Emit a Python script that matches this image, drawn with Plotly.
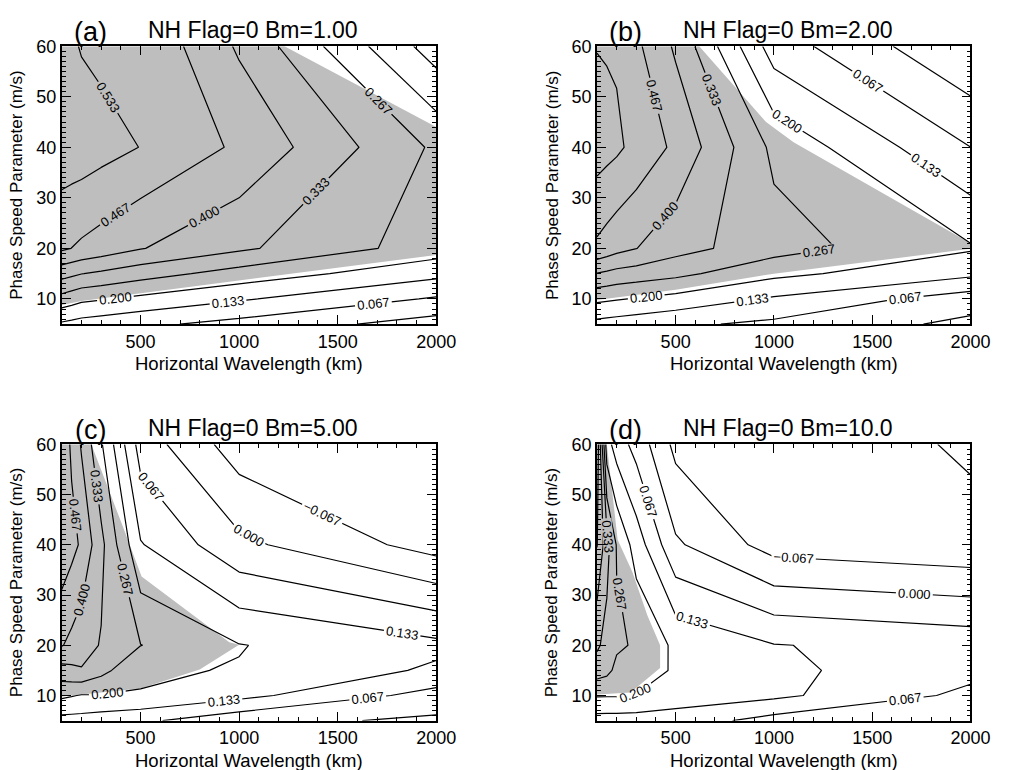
import plotly.graph_objects as go

# ---------------- data ----------------
wavelength_km = [100, 150, 200, 300, 500, 1000, 2000]
phase_speed = [5, 10, 15, 20, 40, 60]

# rows follow phase_speed, columns follow wavelength_km
z_a = [
    [0.123, 0.115, 0.107, 0.098, 0.081, 0.045, -0.030],
    [0.243, 0.229, 0.215, 0.205, 0.185, 0.141, 0.0595],
    [0.359, 0.347, 0.335, 0.322, 0.295, 0.240, 0.153],
    [0.477, 0.466, 0.455, 0.438, 0.403, 0.345, 0.234],
    [0.574, 0.572, 0.570, 0.557, 0.532, 0.455, 0.255],
    [0.557, 0.543, 0.529, 0.518, 0.525, 0.391, 0.100],
]
z_b = [
    [0.1125, 0.108, 0.1035, 0.095, 0.0787, 0.0525, -0.0165],
    [0.215, 0.210, 0.205, 0.196, 0.178, 0.125, 0.032],
    [0.331, 0.3215, 0.312, 0.303, 0.284, 0.217, 0.149],
    [0.454, 0.438, 0.422, 0.401, 0.358, 0.294, 0.207],
    [0.565, 0.555, 0.545, 0.514, 0.453, 0.251, 0.067],
    [0.531, 0.528, 0.525, 0.480, 0.390, 0.100, -0.065],
]
z_c = [
    [0.110, 0.109, 0.1085, 0.099, 0.080, 0.020, -0.012],
    [0.213, 0.2045, 0.196, 0.1965, 0.1975, 0.153, 0.0408],
    [0.309, 0.319, 0.329, 0.288, 0.207, 0.197, 0.1226],
    [0.404, 0.382, 0.360, 0.329, 0.268, 0.2025, 0.150],
    [0.517, 0.487, 0.457, 0.351, 0.138, 0.016, -0.094],
    [0.517, 0.455, 0.393, 0.274, 0.037, -0.102, -0.120],
]
z_d = [
    [0.105, 0.104, 0.104, 0.103, 0.102, 0.041, 0.015],
    [0.205, 0.205, 0.205, 0.197, 0.167, 0.148, 0.0497],
    [0.299, 0.285, 0.250, 0.250, 0.188, 0.148, 0.0874],
    [0.345, 0.310, 0.277, 0.259, 0.186, 0.136, 0.109],
    [0.470, 0.360, 0.262, 0.170, 0.010, -0.094, -0.118],
    [0.520, 0.160, 0.103, 0.042, -0.085, -0.100, -0.140],
]

# boundaries of the grey shaded regions (wavelength km, phase speed m/s)
shade_a_x = [100, 200, 2000, 2000, 1230, 100]
shade_a_y = [8.8, 9.6, 18.7, 44.0, 60.0, 60.0]
shade_b_x = [100, 500, 1000, 2000, 2000, 1100, 960, 620, 100]
shade_b_y = [9.8, 11.8, 15.0, 19.9, 21.0, 41.0, 45.0, 60.0, 60.0]
shade_c_x = [100, 500, 800, 1000, 950, 505, 423, 250, 100]
shade_c_y = [9.8, 11.4, 15.2, 20.1, 20.6, 33.7, 42.3, 60.0, 60.0]
shade_d_x = [100, 271, 421, 421, 356, 280, 205, 150, 100]
shade_d_y = [10.2, 10.6, 15.5, 20.0, 26.0, 34.6, 41.0, 60.0, 60.0]

panel_letters = ["(a)", "(b)", "(c)", "(d)"]
panel_titles = ["NH Flag=0 Bm=1.00", "NH Flag=0 Bm=2.00",
                "NH Flag=0 Bm=5.00", "NH Flag=0 Bm=10.0"]
x_tick_vals = [500, 1000, 1500, 2000]
y_tick_vals = [10, 20, 30, 40, 50, 60]
x_title = "Horizontal Wavelength (km)"
y_title = "Phase Speed Parameter (m/s)"

# ---------------- figure ----------------
W, H = 1015, 770
FONT = "Liberation Sans"

fig = go.Figure()

# plot-area pixel boxes (left, right, top, bottom)
boxes = [(63, 445, 36.7, 318.3), (609, 990, 36.7, 318.3),
         (63, 445, 440, 720), (609, 990, 440, 720)]

zs = [z_a, z_b, z_c, z_d]
shades = [(shade_a_x, shade_a_y), (shade_b_x, shade_b_y),
          (shade_c_x, shade_c_y), (shade_d_x, shade_d_y)]

annotations = []
shapes = []
for i in range(4):
    sfx = "" if i == 0 else str(i + 1)
    xa, ya = "x" + sfx, "y" + sfx
    sx, sy = shades[i]
    path = "M " + " L ".join(f"{a},{b}" for a, b in zip(sx, sy)) + " Z"
    shapes.append(dict(type="path", path=path, xref=xa, yref=ya,
                       fillcolor="#bebebe", line=dict(width=0),
                       layer="below"))
    fig.add_trace(go.Contour(
        x=wavelength_km, y=phase_speed, z=zs[i],
        contours=dict(coloring="none", start=-0.2, end=0.6, size=1 / 15,
                      showlabels=True, labelformat=".3f",
                      labelfont=dict(family=FONT, size=13, color="black")),
        line=dict(color="black", width=1.2, smoothing=0),
        showscale=False, hoverinfo="skip", xaxis=xa, yaxis=ya))

    l, r, t, b = boxes[i]
    xdom = [l / W, r / W]
    ydom = [1 - b / H, 1 - t / H]
    common = dict(showline=True, linecolor="black", linewidth=1.8,
                  mirror="allticks", ticks="inside", showgrid=False,
                  zeroline=False, tickcolor="black", tickwidth=1.3,
                  tickfont=dict(family=FONT, size=18, color="black"))
    fig.layout["xaxis" + sfx] = dict(
        domain=xdom, anchor=ya, range=[100, 2000], tickvals=x_tick_vals,
        ticklen=9, minor=dict(tickvals=list(range(100, 2001, 100)),
                              ticks="inside", ticklen=4, tickwidth=1,
                              tickcolor="black"),
        **common)
    fig.layout["yaxis" + sfx] = dict(
        domain=ydom, anchor=xa, range=[5, 60], tickvals=y_tick_vals,
        ticklen=9, minor=dict(tickvals=list(range(5, 61)), ticks="inside",
                              ticklen=4, tickwidth=1, tickcolor="black"),
        **common)

    cx = (l + r) / 2
    annotations.append(dict(text=panel_titles[i], x=(cx + 4) / W,
                            y=1 - (t - 16) / H, xref="paper", yref="paper",
                            showarrow=False, xanchor="center", yanchor="middle",
                            font=dict(family=FONT, size=23, color="black")))
    annotations.append(dict(text=panel_letters[i], x=(l + 29) / W,
                            y=1 - (t - 14) / H, xref="paper", yref="paper",
                            showarrow=False, xanchor="center", yanchor="middle",
                            font=dict(family=FONT, size=27, color="black")))
    annotations.append(dict(text=x_title, x=cx / W, y=1 - (b + 40) / H,
                            xref="paper", yref="paper", showarrow=False,
                            xanchor="center", yanchor="middle",
                            font=dict(family=FONT, size=18.5, color="black")))
    annotations.append(dict(text=y_title, x=(l - 46) / W,
                            y=1 - ((t + b) / 2) / H, xref="paper",
                            yref="paper", showarrow=False, textangle=-90,
                            xanchor="center", yanchor="middle",
                            font=dict(family=FONT, size=17, color="black")))

fig.update_layout(width=W, height=H, margin=dict(l=0, r=0, t=0, b=0),
                  paper_bgcolor="white", plot_bgcolor="white",
                  showlegend=False, annotations=annotations, shapes=shapes,
                  font=dict(family=FONT, color="black"))

fig.write_html("out.html")
